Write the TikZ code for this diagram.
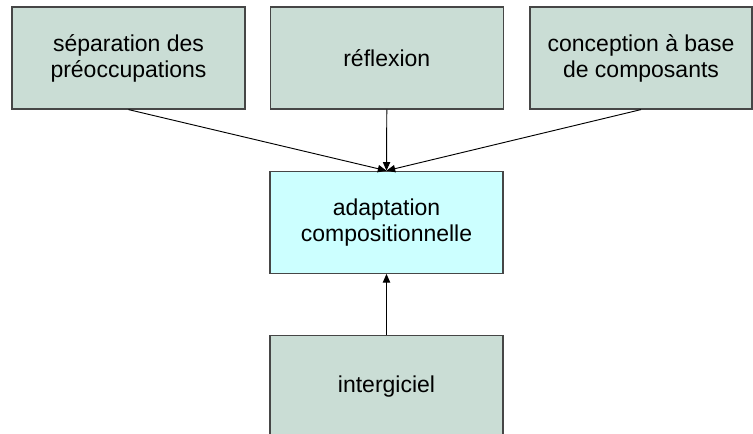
\documentclass[tikz,border=0pt]{standalone}
\usepackage{fontspec}
\setmainfont{Liberation Sans}
\usetikzlibrary{arrows.meta}
\definecolor{boxgreen}{RGB}{202,221,213}
\definecolor{boxcyan}{RGB}{204,255,255}
\definecolor{boxedge}{RGB}{70,70,70}
\tikzset{
  box/.style={draw=boxedge, line width=0.9pt, fill=boxgreen, inner sep=0pt,
    minimum width=233*0.75pt, minimum height=102*0.75pt, align=center,
    font=\fontsize{17.25}{19.5}\selectfont},
  cbox/.style={box, fill=boxcyan},
  link/.style={draw=black, line width=0.7pt, -{Triangle[length=6.5pt,width=5.5pt]}}
}
\begin{document}
\begin{tikzpicture}[x=0.75pt,y=-0.75pt]
\useasboundingbox (0,0) rectangle (753,434);
\clip (0,0) rectangle (753,434);
\node[box] (sep) at (128.5,58) {séparation des\\préoccupations};
\node[box] (ref) at (386.8,58) {réflexion};
\node[box, minimum width=222*0.75pt] (comp) at (641,58) {conception à base\\de composants};
\node[cbox] (adapt) at (386.5,222.3) {adaptation\\compositionnelle};
\node[box] (mid) at (386.5,386.7) {intergiciel};
\draw[link] (sep.south) -- (adapt.north);
\draw[link] (ref.south) -- (adapt.north);
\draw[link] (comp.south) -- (adapt.north);
\draw[link] (mid.north) -- (adapt.south);
\end{tikzpicture}
\end{document}
